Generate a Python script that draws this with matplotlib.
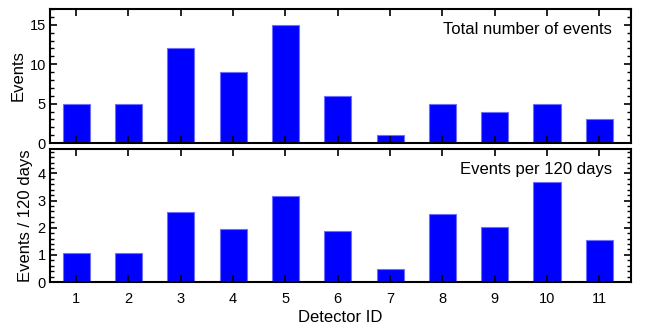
import matplotlib
matplotlib.use("Agg")
import matplotlib.pyplot as plt
from matplotlib.ticker import MultipleLocator

plt.rcParams['font.family'] = ['Liberation Sans', 'DejaVu Sans']

detectors = [1, 2, 3, 4, 5, 6, 7, 8, 9, 10, 11]
total_events = [5, 5, 12, 9, 15, 6, 1, 5, 4, 5, 3]
events_per_120d = [1.07, 1.07, 2.59, 1.95, 3.17, 1.88, 0.49, 2.49, 2.02, 3.69, 1.53]

fig = plt.figure(figsize=(6.64, 3.32), dpi=100)
ax1 = fig.add_axes([0.0753, 0.569, 0.8747, 0.404])
ax2 = fig.add_axes([0.0753, 0.1506, 0.8747, 0.4006])

for ax, vals, ylab, title, ylim, maj, mnr in [
    (ax1, total_events, 'Events', 'Total number of events', 17, 5, 1),
    (ax2, events_per_120d, 'Events / 120 days', 'Events per 120 days', 4.9, 1, 0.2),
]:
    ax.bar(detectors, vals, width=0.52, color='#0000ff', edgecolor='#6f6fff', linewidth=0.8, zorder=1)
    ax.set_xlim(0.5, 11.6)
    ax.set_ylim(0, ylim)
    ax.yaxis.set_major_locator(MultipleLocator(maj))
    ax.yaxis.set_minor_locator(MultipleLocator(mnr))
    ax.set_xticks(detectors)
    ax.tick_params(axis='both', which='major', direction='in', length=5, width=1.2,
                   top=True, right=True, labelsize=10.5)
    ax.tick_params(axis='x', which='major', pad=7)
    ax.tick_params(axis='y', which='major', pad=3)
    ax.tick_params(axis='y', which='minor', direction='in', length=3, width=1.0,
                   left=True, right=True)
    ax.tick_params(axis='x', which='minor', bottom=False, top=False)
    for s in ax.spines.values():
        s.set_linewidth(1.5)
        s.set_zorder(3)
    ax.set_ylabel(ylab, fontsize=12, labelpad=3)
    ax.text(0.968, 0.90, title, transform=ax.transAxes, ha='right', va='top', fontsize=12)

ax1.tick_params(axis='x', labelbottom=False)
ax2.set_xlabel('Detector ID', fontsize=12, labelpad=3)

fig.savefig('out.png', dpi=100)
